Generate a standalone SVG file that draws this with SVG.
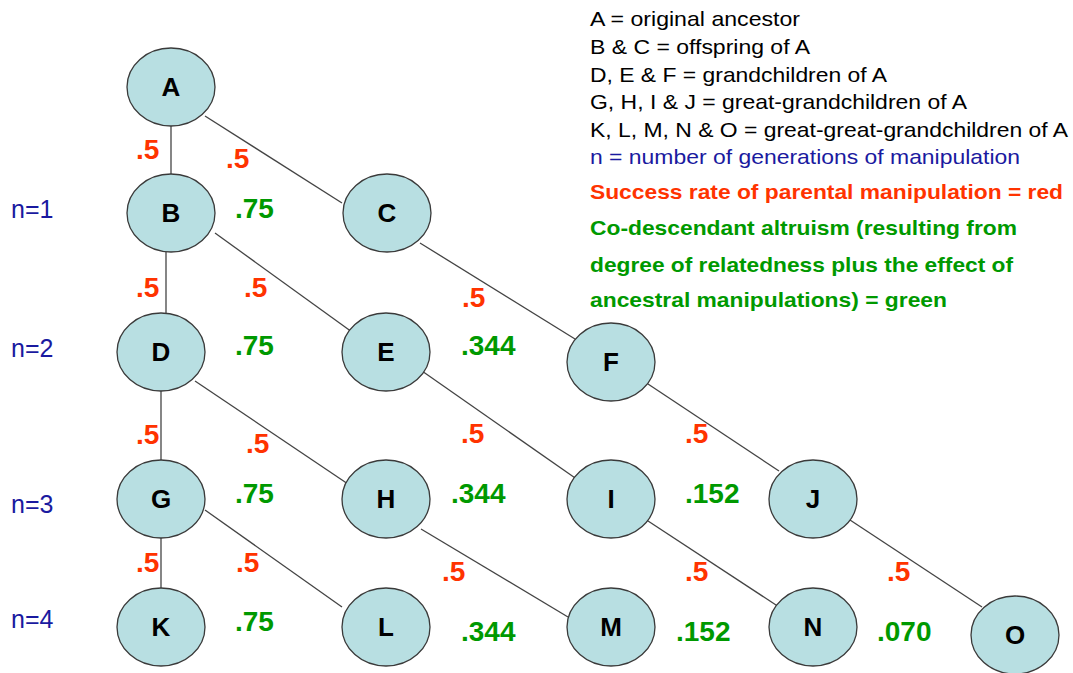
<svg xmlns="http://www.w3.org/2000/svg" width="1073" height="673" viewBox="0 0 1073 673">
<style>
.node ellipse{fill:#b8dfe2;stroke:#3a3a3a;stroke-width:1.3}
.node text{font-family:"Liberation Sans",Arial,sans-serif;font-weight:bold;font-size:26px;fill:#000;text-anchor:middle}
.edge{stroke:#444;stroke-width:1.3;fill:none}
.r{font-family:"Liberation Sans",Arial,sans-serif;font-weight:bold;font-size:28px;fill:#ff3300}
.g{font-family:"Liberation Sans",Arial,sans-serif;font-weight:bold;font-size:28px;fill:#009900}
.n{font-family:"Liberation Sans",Arial,sans-serif;font-size:25px;fill:#1a1aa0}
.lk{font-family:"Liberation Sans",Arial,sans-serif;font-size:21px;fill:#000}
.lb{font-family:"Liberation Sans",Arial,sans-serif;font-size:21px;fill:#1a1aa0}
.lr{font-family:"Liberation Sans",Arial,sans-serif;font-size:21px;font-weight:bold;fill:#ff3300}
.lg{font-family:"Liberation Sans",Arial,sans-serif;font-size:21px;font-weight:bold;fill:#009900}
</style>
<rect width="1073" height="673" fill="#fff"/>
<g id="connectors">
<line class="edge" x1="171" y1="126" x2="171" y2="174"/>
<line class="edge" x1="205" y1="116" x2="342" y2="203"/>
<line class="edge" x1="166" y1="252" x2="166" y2="313"/>
<line class="edge" x1="215" y1="233" x2="352" y2="332"/>
<line class="edge" x1="420" y1="243" x2="575" y2="339"/>
<line class="edge" x1="161" y1="391" x2="161" y2="460"/>
<line class="edge" x1="195" y1="381" x2="348" y2="484"/>
<line class="edge" x1="422" y1="371" x2="578" y2="480"/>
<line class="edge" x1="648" y1="384" x2="779" y2="471"/>
<line class="edge" x1="161" y1="538" x2="161" y2="588"/>
<line class="edge" x1="205" y1="510" x2="342" y2="607"/>
<line class="edge" x1="421" y1="529" x2="568" y2="617"/>
<line class="edge" x1="645" y1="519" x2="779" y2="607"/>
<line class="edge" x1="850" y1="520" x2="982" y2="607"/>
</g>
<g id="node-A" class="node"><ellipse cx="171" cy="87" rx="44" ry="39"/><text x="171" y="96">A</text></g>
<g id="node-B" class="node"><ellipse cx="171" cy="213" rx="44" ry="39"/><text x="171" y="222">B</text></g>
<g id="node-C" class="node"><ellipse cx="387" cy="213" rx="44" ry="39"/><text x="387" y="222">C</text></g>
<g id="node-D" class="node"><ellipse cx="161" cy="352" rx="44" ry="39"/><text x="161" y="361">D</text></g>
<g id="node-E" class="node"><ellipse cx="386" cy="352" rx="44" ry="39"/><text x="386" y="361">E</text></g>
<g id="node-F" class="node"><ellipse cx="611" cy="362" rx="44" ry="39"/><text x="611" y="371">F</text></g>
<g id="node-G" class="node"><ellipse cx="161" cy="499" rx="44" ry="39"/><text x="161" y="508">G</text></g>
<g id="node-H" class="node"><ellipse cx="386" cy="499" rx="44" ry="39"/><text x="386" y="508">H</text></g>
<g id="node-I" class="node"><ellipse cx="611" cy="499" rx="44" ry="39"/><text x="611" y="508">I</text></g>
<g id="node-J" class="node"><ellipse cx="813" cy="499" rx="44" ry="39"/><text x="813" y="508">J</text></g>
<g id="node-K" class="node"><ellipse cx="161" cy="627" rx="44" ry="39"/><text x="161" y="636">K</text></g>
<g id="node-L" class="node"><ellipse cx="386" cy="627" rx="44" ry="39"/><text x="386" y="636">L</text></g>
<g id="node-M" class="node"><ellipse cx="611" cy="627" rx="44" ry="39"/><text x="611" y="636">M</text></g>
<g id="node-N" class="node"><ellipse cx="813" cy="627" rx="44" ry="39"/><text x="813" y="636">N</text></g>
<g id="node-O" class="node"><ellipse cx="1015" cy="635" rx="44" ry="39"/><text x="1015" y="644">O</text></g>
<g id="rates">
<text class="r" x="136" y="159">.5</text>
<text class="r" x="226" y="168">.5</text>
<text class="r" x="136" y="297">.5</text>
<text class="r" x="244" y="297">.5</text>
<text class="r" x="462" y="307">.5</text>
<text class="r" x="136" y="444">.5</text>
<text class="r" x="246" y="453">.5</text>
<text class="r" x="461" y="443">.5</text>
<text class="r" x="685" y="443">.5</text>
<text class="r" x="136" y="572">.5</text>
<text class="r" x="236" y="572">.5</text>
<text class="r" x="442" y="581">.5</text>
<text class="r" x="685" y="581">.5</text>
<text class="r" x="887" y="581">.5</text>
</g>
<g id="altruism">
<text class="g" x="235" y="218">.75</text>
<text class="g" x="235" y="355">.75</text>
<text class="g" x="461" y="355">.344</text>
<text class="g" x="235" y="503">.75</text>
<text class="g" x="451" y="503">.344</text>
<text class="g" x="685" y="503">.152</text>
<text class="g" x="235" y="631">.75</text>
<text class="g" x="461" y="641">.344</text>
<text class="g" x="676" y="641">.152</text>
<text class="g" x="877" y="641">.070</text>
</g>
<g id="generations">
<text class="n" x="11" y="218">n=1</text>
<text class="n" x="11" y="357">n=2</text>
<text class="n" x="11" y="513">n=3</text>
<text class="n" x="11" y="628">n=4</text>
</g>
<g id="legend">
<text class="lk" x="590" y="26" textLength="210" lengthAdjust="spacingAndGlyphs">A = original ancestor</text>
<text class="lk" x="590" y="54" textLength="220" lengthAdjust="spacingAndGlyphs">B &amp; C = offspring of A</text>
<text class="lk" x="590" y="82" textLength="297" lengthAdjust="spacingAndGlyphs">D, E &amp; F = grandchildren of A</text>
<text class="lk" x="590" y="109" textLength="377" lengthAdjust="spacingAndGlyphs">G, H, I &amp; J = great-grandchildren of A</text>
<text class="lk" x="590" y="137" textLength="478" lengthAdjust="spacingAndGlyphs">K, L, M, N &amp; O = great-great-grandchildren of A</text>
<text class="lb" x="590" y="164" textLength="430" lengthAdjust="spacingAndGlyphs">n = number of generations of manipulation</text>
<text class="lr" x="590" y="199" textLength="473" lengthAdjust="spacingAndGlyphs">Success rate of parental manipulation = red</text>
<text class="lg" x="590" y="235" textLength="427" lengthAdjust="spacingAndGlyphs">Co-descendant altruism (resulting from</text>
<text class="lg" x="590" y="272" textLength="423" lengthAdjust="spacingAndGlyphs">degree of relatedness plus the effect of</text>
<text class="lg" x="590" y="307" textLength="357" lengthAdjust="spacingAndGlyphs">ancestral manipulations) = green</text>
</g>
</svg>
